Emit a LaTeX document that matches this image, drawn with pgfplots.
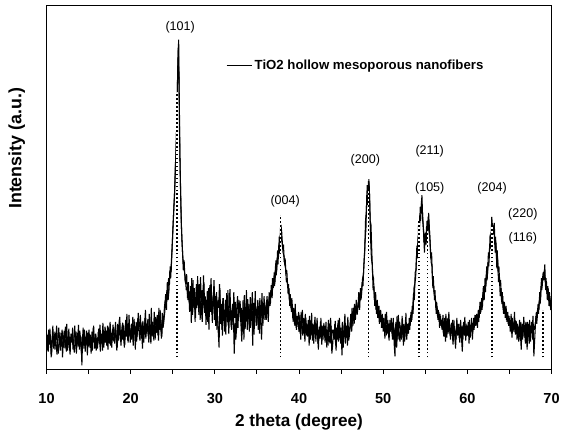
\documentclass[border=0pt]{standalone}
\usepackage{fontspec}
\setmainfont{Liberation Sans}
\usepackage{pgfplots}
\pgfplotsset{compat=1.18}
\begin{document}
\begin{tikzpicture}
\begin{axis}[
  scale only axis, width=382.5pt, height=275.25pt,
  xmin=10, xmax=70, ymin=0, ymax=367,
  clip mode=individual,
  xtick={10,20,...,70}, minor x tick num=1,
  ytick=\empty,
  tick align=outside, xtick pos=bottom,
  major tick length=3.5pt, minor tick length=3.5pt,
  axis line style={line width=0.8pt},
  every tick/.style={black, line width=0.7pt},
  /pgf/number format/assume math mode=true,
  xticklabel style={font=\bfseries\fontsize{11}{13}\selectfont, anchor=center, yshift=-18.75pt},
  xlabel={2 theta (degree)},
  xlabel style={font=\bfseries\fontsize{13}{15}\selectfont, at={(axis description cs:0.5,0)}, anchor=center, yshift=-40pt},
  legend style={draw=none, fill=none, at={(rel axis cs:0.355,0.835)}, anchor=west, inner sep=0pt, nodes={inner sep=1.5pt}, font=\bfseries\fontsize{10}{12}\selectfont},
  legend cell align=left,
  legend image code/.code={\draw[line width=0.7pt] (0pt,0pt) -- (19.5pt,0pt);},
]
\addplot[black, line width=0.8pt, line join=bevel] coordinates {
(10.0,22)(10.1,35)(10.2,18)(10.3,30)(10.4,41)(10.5,26)(10.6,14)(10.7,33)(10.8,27)(10.9,38)
(11.0,20)(11.1,31)(11.2,44)(11.3,25)(11.4,16)(11.5,29)(11.6,37)(11.7,23)(11.8,34)(11.9,12)
(12.0,30)(12.1,39)(12.2,21)(12.3,27)(12.4,46)(12.5,19)(12.6,33)(12.7,25)(12.8,15)(12.9,36)
(13.0,28)(13.1,42)(13.2,24)(13.3,17)(13.4,31)(13.5,38)(13.6,22)(13.7,29)(13.8,45)(13.9,20)
(14.0,26)(14.1,33)(14.2,4)(14.3,35)(14.4,24)(14.5,40)(14.6,18)(14.7,30)(14.8,27)(14.9,37)
(15.0,23)(15.1,34)(15.2,29)(15.3,16)(15.4,38)(15.5,27)(15.6,44)(15.7,21)(15.8,31)(15.9,19)
(16.0,32)(16.1,25)(16.2,41)(16.3,28)(16.4,18)(16.5,36)(16.6,30)(16.7,47)(16.8,22)(16.9,34)
(17.0,27)(17.1,39)(17.2,33)(17.3,20)(17.4,43)(17.5,31)(17.6,24)(17.7,37)(17.8,29)(17.9,45)
(18.0,35)(18.1,26)(18.2,48)(18.3,31)(18.4,22)(18.5,40)(18.6,34)(18.7,53)(18.8,28)(18.9,38)
(19.0,30)(19.1,45)(19.2,37)(19.3,25)(19.4,50)(19.5,33)(19.6,41)(19.7,27)(19.8,55)(19.9,36)
(20.0,32)(20.1,46)(20.2,39)(20.3,24)(20.4,51)(20.5,35)(20.6,43)(20.7,28)(20.8,38)(20.9,57)
(21.0,36)(21.1,29)(21.2,48)(21.3,40)(21.4,21)(21.5,44)(21.6,35)(21.7,52)(21.8,31)(21.9,46)
(22.0,40)(22.1,33)(22.2,56)(22.3,38)(22.4,26)(22.5,47)(22.6,42)(22.7,35)(22.8,58)(22.9,30)
(23.0,44)(23.1,37)(23.2,51)(23.3,29)(23.4,48)(23.5,60)(23.6,41)(23.7,33)(23.8,54)(23.9,46)
(24.0,62)(24.1,70)(24.2,66)(24.3,80)(24.4,74)(24.5,92)(24.6,85)(24.7,104)(24.8,98)(24.9,118)
(25.0,140)(25.1,158)(25.2,175)(25.3,205)(25.4,222)(25.5,262)(25.6,310)(25.7,333)(25.8,240)(25.9,190)
(26.0,150)(26.1,128)(26.2,112)(26.3,104)(26.4,98)(26.5,92)(26.6,80)(26.7,83)(26.8,70)(26.9,79)
(27.0,58)(27.1,84)(27.2,47)(27.3,77)(27.4,90)(27.5,62)(27.6,71)(27.7,52)(27.8,86)(27.9,65)
(28.0,80)(28.1,55)(28.2,72)(28.3,93)(28.4,60)(28.5,48)(28.6,76)(28.7,88)(28.8,57)(28.9,70)
(29.0,52)(29.1,79)(29.2,66)(29.3,40)(29.4,85)(29.5,58)(29.6,73)(29.7,47)(29.8,69)(29.9,90)
(30.0,63)(30.1,44)(30.2,78)(30.3,55)(30.4,38)(30.5,22)(30.6,82)(30.7,50)(30.8,66)(30.9,34)
(31.0,72)(31.1,49)(31.2,60)(31.3,35)(31.4,77)(31.5,53)(31.6,44)(31.7,68)(31.8,81)(31.9,46)
(32.0,40)(32.1,66)(32.2,56)(32.3,16)(32.4,47)(32.5,30)(32.6,62)(32.7,74)(32.8,51)(32.9,58)
(33.0,69)(33.1,45)(33.2,28)(33.3,60)(33.4,54)(33.5,75)(33.6,41)(33.7,63)(33.8,48)(33.9,71)
(34.0,56)(34.1,38)(34.2,73)(34.3,49)(34.4,62)(34.5,24)(34.6,67)(34.7,53)(34.8,79)(34.9,44)
(35.0,48)(35.1,70)(35.2,58)(35.3,36)(35.4,65)(35.5,52)(35.6,77)(35.7,44)(35.8,60)(35.9,68)
(36.0,62)(36.1,50)(36.2,74)(36.3,57)(36.4,68)(36.5,72)(36.6,66)(36.7,85)(36.8,72)(36.9,90)
(37.0,92)(37.1,84)(37.2,104)(37.3,95)(37.4,112)(37.5,106)(37.6,126)(37.7,117)(37.8,143)(37.9,132)
(38.0,128)(38.1,118)(38.2,115)(38.3,106)(38.4,102)(38.5,88)(38.6,92)(38.7,76)(38.8,82)(38.9,64)
(39.0,70)(39.1,58)(39.2,66)(39.3,48)(39.4,62)(39.5,44)(39.6,57)(39.7,40)(39.8,52)(39.9,46)
(40.0,38)(40.1,55)(40.2,30)(40.3,49)(40.4,60)(40.5,36)(40.6,44)(40.7,28)(40.8,52)(40.9,41)
(41.0,33)(41.1,50)(41.2,24)(41.3,45)(41.4,38)(41.5,57)(41.6,29)(41.7,42)(41.8,35)(41.9,53)
(42.0,28)(42.1,46)(42.2,34)(42.3,20)(42.4,43)(42.5,31)(42.6,52)(42.7,25)(42.8,39)(42.9,35)
(43.0,41)(43.1,27)(43.2,48)(43.3,22)(43.4,37)(43.5,50)(43.6,30)(43.7,26)(43.8,44)(43.9,16)
(44.0,25)(44.1,40)(44.2,33)(44.3,49)(44.4,19)(44.5,36)(44.6,45)(44.7,28)(44.8,52)(44.9,30)
(45.0,42)(45.1,14)(45.2,38)(45.3,31)(45.4,47)(45.5,26)(45.6,44)(45.7,36)(45.8,53)(45.9,29)
(46.0,35)(46.1,48)(46.2,45)(46.3,62)(46.4,44)(46.5,58)(46.6,66)(46.7,50)(46.8,70)(46.9,55)
(47.0,62)(47.1,78)(47.2,60)(47.3,82)(47.4,72)(47.5,88)(47.6,84)(47.7,105)(47.8,118)(47.9,150)
(48.0,160)(48.1,186)(48.2,178)(48.3,192)(48.4,170)(48.5,132)(48.6,112)(48.7,106)(48.8,80)(48.9,84)
(49.0,64)(49.1,78)(49.2,56)(49.3,70)(49.4,52)(49.5,64)(49.6,48)(49.7,60)(49.8,42)(49.9,56)
(50.0,38)(50.1,52)(50.2,31)(50.3,47)(50.4,58)(50.5,36)(50.6,44)(50.7,29)(50.8,50)(50.9,40)
(51.0,45)(51.1,30)(51.2,52)(51.3,26)(51.4,13)(51.5,48)(51.6,22)(51.7,39)(51.8,55)(51.9,33)
(52.0,28)(52.1,44)(52.2,36)(52.3,50)(52.4,24)(52.5,41)(52.6,33)(52.7,57)(52.8,30)(52.9,46)
(53.0,36)(53.1,52)(53.2,44)(53.3,58)(53.4,50)(53.5,62)(53.6,76)(53.7,70)(53.8,98)(53.9,100)
(54.0,125)(54.1,112)(54.2,146)(54.3,138)(54.4,164)(54.5,158)(54.6,176)(54.7,150)(54.8,140)(54.9,118)
(55.0,138)(55.1,126)(55.2,150)(55.3,136)(55.4,158)(55.5,140)(55.6,124)(55.7,108)(55.8,104)(55.9,82)
(56.0,84)(56.1,70)(56.2,72)(56.3,56)(56.4,64)(56.5,50)(56.6,58)(56.7,42)(56.8,54)(56.9,46)
(57.0,40)(57.1,55)(57.2,33)(57.3,48)(57.4,28)(57.5,45)(57.6,52)(57.7,36)(57.8,58)(57.9,41)
(58.0,30)(58.1,47)(58.2,38)(58.3,25)(58.4,50)(58.5,34)(58.6,21)(58.7,43)(58.8,45)(58.9,37)
(59.0,42)(59.1,27)(59.2,50)(59.3,32)(59.4,18)(59.5,44)(59.6,36)(59.7,53)(59.8,29)(59.9,40)
(60.0,34)(60.1,48)(60.2,26)(60.3,45)(60.4,38)(60.5,52)(60.6,30)(60.7,47)(60.8,40)(60.9,55)
(61.0,44)(61.1,56)(61.2,42)(61.3,60)(61.4,52)(61.5,68)(61.6,58)(61.7,72)(61.8,64)(61.9,84)
(62.0,70)(62.1,92)(62.2,84)(62.3,104)(62.4,96)(62.5,118)(62.6,112)(62.7,136)(62.8,128)(62.9,154)
(63.0,142)(63.1,136)(63.2,148)(63.3,118)(63.4,128)(63.5,102)(63.6,112)(63.7,88)(63.8,96)(63.9,74)
(64.0,82)(64.1,66)(64.2,74)(64.3,56)(64.4,68)(64.5,52)(64.6,64)(64.7,48)(64.8,58)(64.9,44)
(65.0,50)(65.1,38)(65.2,56)(65.3,32)(65.4,47)(65.5,41)(65.6,58)(65.7,35)(65.8,49)(65.9,30)
(66.0,44)(66.1,28)(66.2,50)(66.3,36)(66.4,20)(66.5,46)(66.6,32)(66.7,53)(66.8,38)(66.9,26)
(67.0,42)(67.1,20)(67.2,46)(67.3,33)(67.4,50)(67.5,28)(67.6,44)(67.7,39)(67.8,54)(67.9,13)
(68.0,30)(68.1,48)(68.2,58)(68.3,52)(68.4,66)(68.5,60)(68.6,78)(68.7,70)(68.8,92)(68.9,84)
(69.0,98)(69.1,90)(69.2,106)(69.3,80)(69.4,88)(69.5,70)(69.6,82)(69.7,64)(69.8,74)(69.9,60)
(70.0,62)
};
\addlegendentry{TiO2 hollow mesoporous nanofibers}
\addplot[black, line width=0.8pt, line join=bevel, forget plot] coordinates {
(10.05,31)(10.15,19)(10.25,40)(10.35,25)(10.45,33)(10.55,12)(10.65,29)(10.75,44)(10.85,21)(10.95,30)
(11.05,37)(11.15,24)(11.25,15)(11.35,33)(11.45,42)(11.55,26)(11.65,19)(11.75,31)(11.85,40)(11.95,28)
(12.05,22)(12.15,34)(12.25,43)(12.35,18)(12.45,30)(12.55,25)(12.65,41)(12.75,20)(12.85,33)(12.95,27)
(13.05,35)(13.15,20)(13.25,31)(13.35,44)(13.45,26)(13.55,16)(13.65,37)(13.75,28)(13.85,23)(13.95,39)
(14.05,30)(14.15,15)(14.25,27)(14.35,42)(14.45,21)(14.55,33)(14.65,25)(14.75,39)(14.85,14)(14.95,31)
(15.05,40)(15.15,22)(15.25,35)(15.35,28)(15.45,19)(15.55,42)(15.65,30)(15.75,24)(15.85,36)(15.95,27)
(16.05,21)(16.15,38)(16.25,30)(16.35,45)(16.45,26)(16.55,33)(16.65,19)(16.75,40)(16.85,28)(16.95,43)
(17.05,36)(17.15,24)(17.25,44)(17.35,31)(17.45,26)(17.55,48)(17.65,33)(17.75,22)(17.85,41)(17.95,30)
(18.05,28)(18.15,43)(18.25,33)(18.35,19)(18.45,46)(18.55,29)(18.65,51)(18.75,36)(18.85,24)(18.95,42)
(19.05,47)(19.15,32)(19.25,22)(19.35,44)(19.45,38)(19.55,56)(19.65,29)(19.75,35)(19.85,45)(19.95,27)
(20.05,41)(20.15,30)(20.25,53)(20.35,36)(20.45,44)(20.55,20)(20.65,48)(20.75,33)(20.85,52)(20.95,39)
(21.05,45)(21.15,55)(21.25,31)(21.35,38)(21.45,49)(21.55,27)(21.65,42)(21.75,60)(21.85,36)(21.95,43)
(22.05,51)(22.15,27)(22.25,44)(22.35,36)(22.45,62)(22.55,33)(22.65,48)(22.75,29)(22.85,45)(22.95,53)
(23.05,38)(23.15,55)(23.25,34)(23.35,62)(23.45,40)(23.55,46)(23.65,31)(23.75,57)(23.85,42)(23.95,50)
(24.05,58)(24.15,76)(24.25,60)(24.35,88)(24.45,70)(24.55,80)(24.65,100)(24.75,92)(24.85,112)(24.95,128)
(25.05,148)(25.15,168)(25.25,185)(25.35,214)(25.45,240)(25.55,285)(25.65,325)(25.75,290)(25.85,215)(25.95,172)
(26.05,138)(26.15,120)(26.25,100)(26.35,110)(26.45,90)(26.55,86)(26.65,96)(26.75,72)(26.85,88)(26.95,68)
(27.05,76)(27.15,60)(27.25,92)(27.35,55)(27.45,70)(27.55,82)(27.65,48)(27.75,78)(27.85,62)(27.95,94)
(28.05,64)(28.15,86)(28.25,50)(28.35,68)(28.45,80)(28.55,58)(28.65,95)(28.75,62)(28.85,74)(28.95,45)
(29.05,68)(29.15,48)(29.25,82)(29.35,60)(29.45,74)(29.55,92)(29.65,55)(29.75,64)(29.85,80)(29.95,50)
(30.05,74)(30.15,58)(30.25,40)(30.35,70)(30.45,62)(30.55,86)(30.65,46)(30.75,58)(30.85,40)(30.95,72)
(31.05,56)(31.15,38)(31.25,70)(31.35,62)(31.45,48)(31.55,80)(31.65,36)(31.75,58)(31.85,64)(31.95,50)
(32.05,60)(32.15,45)(32.25,78)(32.35,52)(32.45,68)(32.55,36)(32.65,56)(32.75,42)(32.85,70)(32.95,63)
(33.05,48)(33.15,62)(33.25,38)(33.35,70)(33.45,30)(33.55,58)(33.65,52)(33.75,80)(33.85,40)(33.95,55)
(34.05,66)(34.15,50)(34.25,42)(34.35,60)(34.45,78)(34.55,46)(34.65,35)(34.75,58)(34.85,64)(34.95,52)
(35.05,62)(35.15,40)(35.25,54)(35.35,72)(35.45,46)(35.55,30)(35.65,62)(35.75,56)(35.85,74)(35.95,50)
(36.05,56)(36.15,70)(36.25,60)(36.35,48)(36.45,78)(36.55,64)(36.65,80)(36.75,74)(36.85,92)(36.95,82)
(37.05,98)(37.15,88)(37.25,110)(37.35,100)(37.45,120)(37.55,112)(37.65,134)(37.75,128)(37.85,146)(37.95,138)
(38.05,122)(38.15,126)(38.25,108)(38.35,112)(38.45,96)(38.55,100)(38.65,82)(38.75,86)(38.85,70)(38.95,76)
(39.05,62)(39.15,72)(39.25,52)(39.35,60)(39.45,46)(39.55,66)(39.65,42)(39.75,54)(39.85,48)(39.95,58)
(40.05,48)(40.15,36)(40.25,58)(40.35,42)(40.45,34)(40.55,52)(40.65,40)(40.75,56)(40.85,34)(40.95,46)
(41.05,42)(41.15,36)(41.25,54)(41.35,30)(41.45,50)(41.55,34)(41.65,46)(41.75,26)(41.85,50)(41.95,40)
(42.05,38)(42.15,52)(42.25,26)(42.35,40)(42.45,33)(42.55,48)(42.65,36)(42.75,44)(42.85,30)(42.95,47)
(43.05,32)(43.15,44)(43.25,28)(43.35,40)(43.45,24)(43.55,46)(43.65,38)(43.75,52)(43.85,34)(43.95,40)
(44.05,38)(44.15,30)(44.25,46)(44.35,24)(44.45,42)(44.55,30)(44.65,50)(44.75,34)(44.85,40)(44.95,26)
(45.05,34)(45.15,48)(45.25,22)(45.35,40)(45.45,56)(45.55,32)(45.65,40)(45.75,24)(45.85,44)(45.95,36)
(46.05,42)(46.15,56)(46.25,38)(46.35,50)(46.45,62)(46.55,46)(46.65,60)(46.75,56)(46.85,64)(46.95,60)
(47.05,68)(47.15,64)(47.25,76)(47.35,70)(47.45,80)(47.55,92)(47.65,96)(47.75,112)(47.85,130)(47.95,142)
(48.05,176)(48.15,166)(48.25,190)(48.35,184)(48.45,150)(48.55,146)(48.65,118)(48.75,96)(48.85,92)(48.95,70)
(49.05,72)(49.15,60)(49.25,66)(49.35,52)(49.45,58)(49.55,46)(49.65,56)(49.75,52)(49.85,48)(49.95,44)
(50.05,46)(50.15,40)(50.25,56)(50.35,34)(50.45,42)(50.55,50)(50.65,32)(50.75,46)(50.85,38)(50.95,52)
(51.05,36)(51.15,48)(51.25,40)(51.35,30)(51.45,44)(51.55,36)(51.65,54)(51.75,30)(51.85,42)(51.95,48)
(52.05,40)(52.15,30)(52.25,54)(52.35,32)(52.45,46)(52.55,28)(52.65,50)(52.75,38)(52.85,42)(52.95,36)
(53.05,46)(53.15,40)(53.25,54)(53.35,48)(53.45,64)(53.55,56)(53.65,82)(53.75,86)(53.85,92)(53.95,112)
(54.05,118)(54.15,134)(54.25,128)(54.35,156)(54.45,150)(54.55,170)(54.65,160)(54.75,146)(54.85,128)(54.95,130)
(55.05,128)(55.15,144)(55.25,140)(55.35,154)(55.45,146)(55.55,132)(55.65,112)(55.75,118)(55.85,92)(55.95,94)
(56.05,76)(56.15,80)(56.25,62)(56.35,68)(56.45,54)(56.55,60)(56.65,48)(56.75,56)(56.85,44)(56.95,50)
(57.05,48)(57.15,36)(57.25,52)(57.35,40)(57.45,56)(57.55,32)(57.65,44)(57.75,38)(57.85,48)(57.95,34)
(58.05,42)(58.15,36)(58.25,50)(58.35,28)(58.45,42)(58.55,38)(58.65,30)(58.75,52)(58.85,34)(58.95,46)
(59.05,30)(59.15,46)(59.25,36)(59.35,44)(59.45,30)(59.55,48)(59.65,34)(59.75,40)(59.85,46)(59.95,34)
(60.05,44)(60.15,36)(60.25,50)(60.35,32)(60.45,42)(60.55,46)(60.65,38)(60.75,52)(60.85,44)(60.95,48)
(61.05,50)(61.15,46)(61.25,56)(61.35,48)(61.45,62)(61.55,56)(61.65,66)(61.75,60)(61.85,78)(61.95,74)
(62.05,82)(62.15,78)(62.25,96)(62.35,90)(62.45,108)(62.55,104)(62.65,126)(62.75,122)(62.85,140)(62.95,146)
(63.05,138)(63.15,146)(63.25,126)(63.35,134)(63.45,114)(63.55,120)(63.65,98)(63.75,104)(63.85,84)(63.95,90)
(64.05,70)(64.15,78)(64.25,60)(64.35,66)(64.45,56)(64.55,60)(64.65,50)(64.75,56)(64.85,46)(64.95,54)
(65.05,44)(65.15,50)(65.25,36)(65.35,52)(65.45,42)(65.55,38)(65.65,50)(65.75,44)(65.85,38)(65.95,46)
(66.05,36)(66.15,42)(66.25,30)(66.35,48)(66.45,38)(66.55,30)(66.65,44)(66.75,40)(66.85,32)(66.95,48)
(67.05,34)(67.15,48)(67.25,38)(67.35,26)(67.45,44)(67.55,36)(67.65,48)(67.75,30)(67.85,46)(67.95,40)
(68.05,42)(68.15,54)(68.25,46)(68.35,62)(68.45,56)(68.55,70)(68.65,66)(68.75,84)(68.85,80)(68.95,94)
(69.05,92)(69.15,100)(69.25,88)(69.35,92)(69.45,76)(69.55,84)(69.65,72)(69.75,78)(69.85,66)(69.95,70)
};
% reference lines
\addplot[white, line width=1.3pt, forget plot] coordinates {(25.5,12) (25.5,280)};
\addplot[black, line width=1.3pt, dash pattern=on 1.2pt off 1.8pt, forget plot] coordinates {(25.5,12) (25.5,280)};
\addplot[white, line width=1.3pt, forget plot] coordinates {(37.8,12) (37.8,156)};
\addplot[black, line width=1.3pt, dash pattern=on 1.2pt off 1.8pt, forget plot] coordinates {(37.8,12) (37.8,156)};
\addplot[white, line width=1.3pt, forget plot] coordinates {(48.25,12) (48.25,180)};
\addplot[black, line width=1.3pt, dash pattern=on 1.2pt off 1.8pt, forget plot] coordinates {(48.25,12) (48.25,180)};
\addplot[white, line width=1.3pt, forget plot] coordinates {(54.27,12) (54.27,150)};
\addplot[black, line width=1.3pt, dash pattern=on 1.2pt off 1.8pt, forget plot] coordinates {(54.27,12) (54.27,150)};
\addplot[white, line width=1.3pt, forget plot] coordinates {(55.25,12) (55.25,140)};
\addplot[black, line width=1.3pt, dash pattern=on 1.2pt off 1.8pt, forget plot] coordinates {(55.25,12) (55.25,140)};
\addplot[white, line width=1.3pt, forget plot] coordinates {(62.9,12) (62.9,145)};
\addplot[black, line width=1.3pt, dash pattern=on 1.2pt off 1.8pt, forget plot] coordinates {(62.9,12) (62.9,145)};
\addplot[white, line width=1.3pt, forget plot] coordinates {(68.95,12) (68.95,60)};
\addplot[black, line width=1.3pt, dash pattern=on 1.2pt off 1.8pt, forget plot] coordinates {(68.95,12) (68.95,60)};
% peak labels
\begin{scope}[every node/.style={font=\fontsize{9.5}{11}\selectfont, inner sep=0pt}]
\node at (axis cs:25.88,345) {(101)};
\node at (axis cs:38.35,170) {(004)};
\node at (axis cs:47.88,211) {(200)};
\node at (axis cs:55.53,220) {(211)};
\node at (axis cs:55.53,183) {(105)};
\node at (axis cs:62.94,183) {(204)};
\node at (axis cs:66.59,157) {(220)};
\node at (axis cs:66.59,132) {(116)};
\end{scope}
\node[rotate=90, font=\bfseries\fontsize{13.5}{15}\selectfont] at ([xshift=-22.5pt]rel axis cs:0,0.608) {Intensity (a.u.)};
\end{axis}
\path (current axis.south west) ++(-35.25pt,-45.75pt);
\path (current axis.north east) ++(5.25pt,4.5pt);
\end{tikzpicture}
\end{document}
